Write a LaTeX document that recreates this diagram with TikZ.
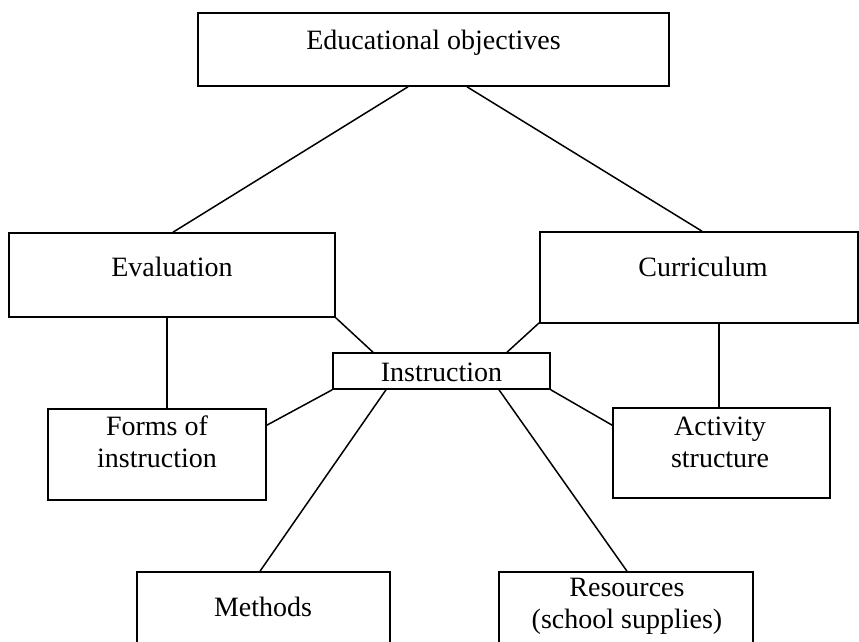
\documentclass[tikz,border=0pt]{standalone}
\usepackage{fontspec}
\setmainfont{Liberation Serif}
\usetikzlibrary{calc}
\begin{document}
\begin{tikzpicture}[x=1pt,y=-1pt,
  box/.style={draw=black,line width=1.6pt,rectangle,inner sep=0pt},
  lbl/.style={inner sep=0pt,align=center,font=\fontsize{28}{32}\selectfont},
  conn/.style={draw=black,line width=1.5pt}]
\useasboundingbox (0,0) rectangle (859,641);
\clip (0,0) rectangle (859,641);
% boxes
\node[box,minimum width=471pt,minimum height=73pt] (edu) at (433.5,49.5) {};
\node[lbl] (eduT) at (433.5,43) {Educational objectives};
\node[box,minimum width=326pt,minimum height=84pt] (eval) at (172,275) {};
\node[lbl] (evalT) at (172,267) {Evaluation};
\node[box,minimum width=318pt,minimum height=91pt] (curr) at (699,277.5) {};
\node[lbl] (currT) at (703,267) {Curriculum};
\node[box,minimum width=217pt,minimum height=36pt] (instr) at (441.5,371) {};
\node[lbl] (instrT) at (441.5,372) {Instruction};
\node[box,minimum width=218pt,minimum height=91pt] (forms) at (157,454.5) {};
\node[lbl] (formsT) at (157,442) {Forms of\\instruction};
\node[box,minimum width=217pt,minimum height=90pt] (act) at (721.5,453) {};
\node[lbl] (actT) at (720,442.5) {Activity\\structure};
\node[box,minimum width=253pt,minimum height=90pt] (meth) at (263.5,617) {};
\node[lbl] (methT) at (263,607) {Methods};
\node[box,minimum width=254pt,minimum height=90pt] (res) at (626,617) {};
\node[lbl] (resT) at (627,606) {Resources\\(school supplies)};
% connectors
\draw[conn] ([xshift=-25.5pt]edu.south) -- ([xshift=1pt]eval.north);
\draw[conn] ([xshift=33.5pt]edu.south) -- ([xshift=3pt]curr.north);
\draw[conn] (eval.south east) -- ([xshift=-68.5pt]instr.north);
\draw[conn] ([xshift=-5pt]eval.south) -- ([xshift=10pt]forms.north);
\draw[conn] ([yshift=1pt]curr.south west) -- ([xshift=65.5pt]instr.north);
\draw[conn] ([xshift=20pt]curr.south) -- ([xshift=-2.5pt]act.north);
\draw[conn] (instr.south west) -- ([yshift=-17pt]forms.north east);
\draw[conn] (instr.south east) -- ([yshift=-18pt]act.north west);
\draw[conn] ([xshift=-55.5pt]instr.south) -- ([xshift=-3.5pt]meth.north);
\draw[conn] ([xshift=57.5pt]instr.south) -- ([xshift=1pt]res.north);
\end{tikzpicture}
\end{document}
